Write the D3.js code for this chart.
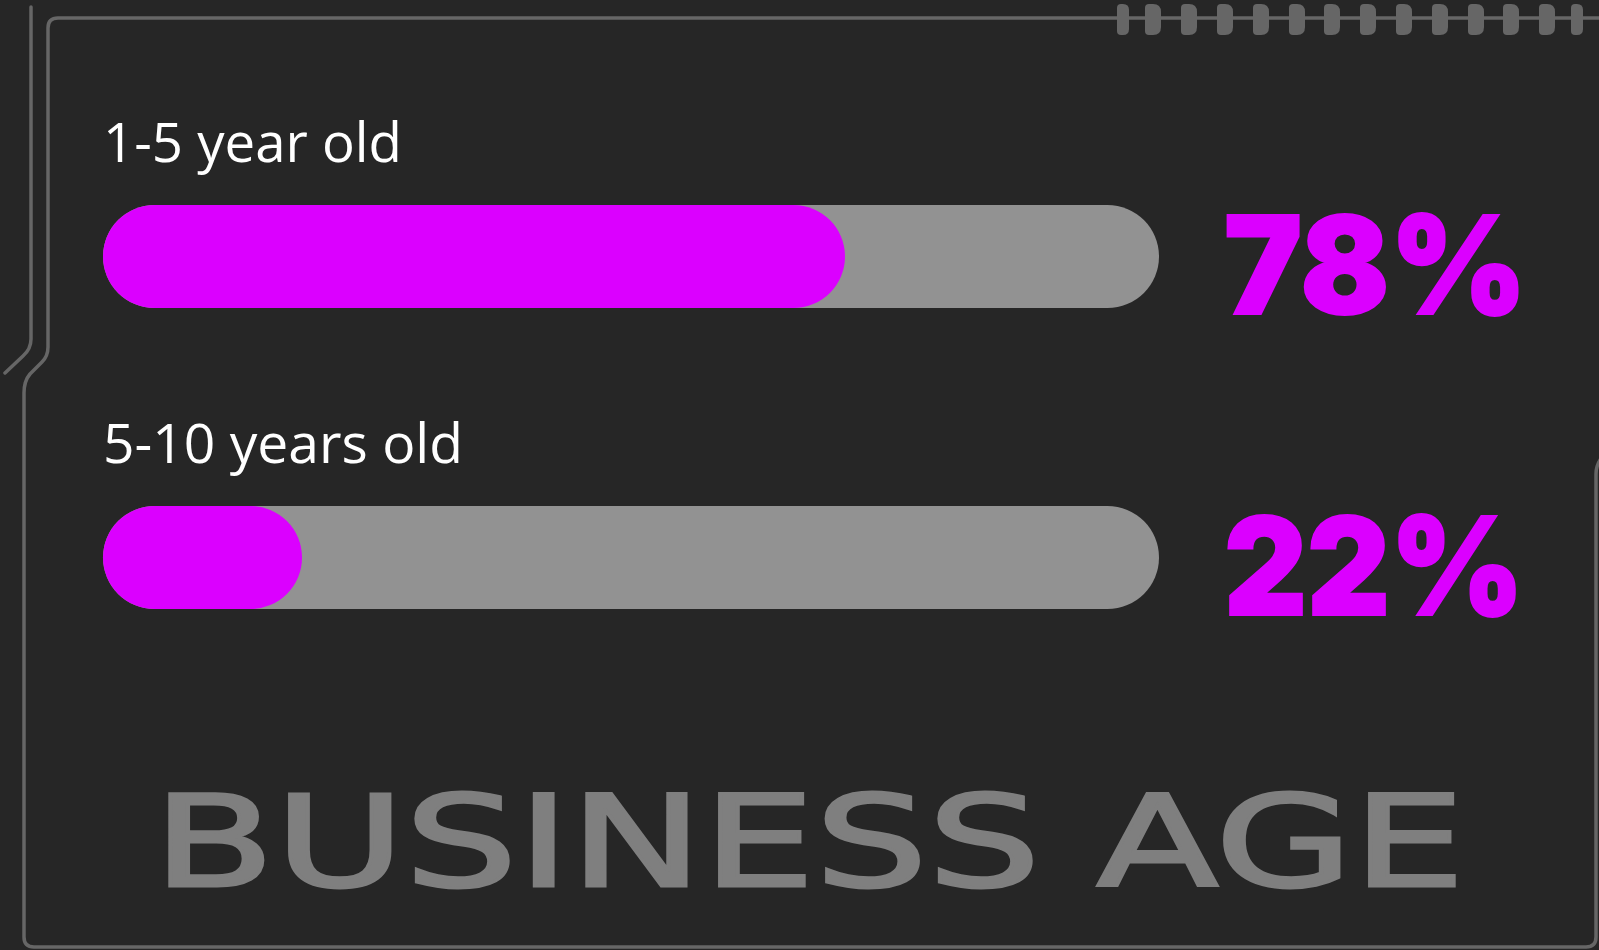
<!DOCTYPE html>
<html>
<head>
<meta charset="utf-8">
<script src="https://cdn.jsdelivr.net/npm/d3@7"></script>
<style>
    html, body { margin: 0; padding: 0; background: #262626; overflow: hidden; }
</style>
</head>
<body>
<div id="chart"></div>
<script>
// Chart data
var categories = ["1-5 year old", "5-10 years old"];
var values = [78, 22];
var valueLabels = ["78%", "22%"];
var title = "BUSINESS AGE";

var width = 1599;
var height = 950;

var svg = d3.select("#chart").append("svg")
    .attr("width", width)
    .attr("height", height);

svg.append("rect")
    .attr("width", width)
    .attr("height", height)
    .attr("fill", "#262626");

// Frame decoration
var frame = svg.append("g")
    .attr("fill", "none")
    .attr("stroke", "#666666")
    .attr("stroke-width", 3.5)
    .attr("stroke-linecap", "round")
    .attr("stroke-linejoin", "round");

frame.append("path")
    .attr("d", "M31,7 L31,339 Q31,349 23,356 L5,373");

frame.append("path")
    .attr("d", "M1602,18 L58,18 Q48,18 48,28 L48,347 Q48,356 42,362 L30,374 " +
               "Q24,381 24,393 L24,937 Q24,947 34,947 L1586,947 Q1596,947 1596,937 " +
               "L1596,474 Q1596,465 1602,457");

// Tabs on the top line (left edge, width)
var tabs = svg.append("g").attr("fill", "#666666");
var tabX = [1117, 1145, 1181, 1217, 1253, 1289, 1324, 1360, 1396, 1432, 1468, 1503, 1539, 1571];
tabs.selectAll("path")
    .data(tabX)
    .enter().append("path")
    .attr("d", function(x, i) {
        var narrow = (i === 0 || i === tabX.length - 1);
        var w = narrow ? 12 : 16;
        var y0 = 4, h = 31, rl = 4, rr = narrow ? 6 : 8;
        return "M" + (x + rl) + "," + y0 +
            " L" + (x + w - rr) + "," + y0 +
            " Q" + (x + w) + "," + y0 + " " + (x + w) + "," + (y0 + rr) +
            " L" + (x + w) + "," + (y0 + h - rr) +
            " Q" + (x + w) + "," + (y0 + h) + " " + (x + w - rr) + "," + (y0 + h) +
            " L" + (x + rl) + "," + (y0 + h) +
            " Q" + x + "," + (y0 + h) + " " + x + "," + (y0 + h - rl) +
            " L" + x + "," + (y0 + rl) +
            " Q" + x + "," + y0 + " " + (x + rl) + "," + y0 + " Z";
    });

// Scales
var barLeft = 103;
var trackRight = 1159;
var barHeight = 103;

var x = d3.scaleLinear()
    .domain([0, 100])
    .range([88.7, 1058.3]);

var y = d3.scalePoint()
    .domain(categories)
    .range([205, 506]);

var rows = svg.selectAll(".row")
    .data(categories)
    .enter().append("g")
    .attr("class", "row");

// Category labels
rows.append("text")
    .attr("x", barLeft)
    .attr("y", function(d) { return y(d) - 43; })
    .attr("fill", "#ffffff")
    .style("font-family", "'Open Sans', sans-serif")
    .style("font-size", "54px")
    .attr("textLength", function(d, i) { return i === 0 ? 299 : 360; })
    .attr("lengthAdjust", "spacingAndGlyphs")
    .text(function(d) { return d; });

// Track
rows.append("rect")
    .attr("x", barLeft)
    .attr("y", function(d) { return y(d); })
    .attr("width", trackRight - barLeft)
    .attr("height", barHeight)
    .attr("rx", barHeight / 2)
    .attr("fill", "#929292");

// Filled part
rows.append("rect")
    .attr("x", barLeft)
    .attr("y", function(d) { return y(d); })
    .attr("width", function(d, i) { return x(values[i]) - barLeft; })
    .attr("height", barHeight)
    .attr("rx", barHeight / 2)
    .attr("fill", "#db00ff");

// Percent labels
rows.append("text")
    .attr("x", 1224)
    .attr("y", function(d) { return y(d) + 108.5; })
    .attr("fill", "#db00ff")
    .attr("stroke", "#db00ff")
    .attr("stroke-width", 2)
    .style("font-family", "Inter, 'Open Sans', sans-serif")
    .style("font-weight", 900)
    .style("font-size", "136px")
    .attr("textLength", function(d, i) { return i === 0 ? 303 : 300; })
    .attr("lengthAdjust", "spacingAndGlyphs")
    .text(function(d, i) { return valueLabels[i]; });

// Title
svg.append("text")
    .attr("x", 153)
    .attr("y", 886)
    .attr("fill", "#7f7f7f")
    .attr("stroke", "#7f7f7f")
    .attr("stroke-width", 3)
    .style("font-family", "'DejaVu Sans', sans-serif")
    .style("font-size", "126px")
    .attr("textLength", 1312)
    .attr("lengthAdjust", "spacingAndGlyphs")
    .text(title);
</script>
</body>
</html>
